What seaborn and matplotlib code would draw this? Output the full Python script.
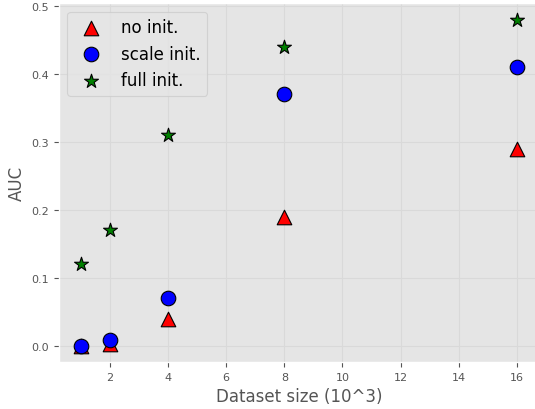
import matplotlib
matplotlib.use("Agg")
import matplotlib.pyplot as plt
import seaborn as sns
import pandas as pd

sizes = [1, 2, 4, 8, 16]
no_init = [0.0, 0.003, 0.04, 0.19, 0.29]
scale_init = [0.0, 0.008, 0.07, 0.37, 0.41]
full_init = [0.12, 0.17, 0.31, 0.44, 0.48]

plt.style.use("ggplot")
fig = plt.figure(figsize=(5.35, 4.1), dpi=100)
ax = fig.add_axes([0.1103, 0.1146, 0.8966, 0.8745])

series = [
    ("no init.", no_init, "^", "red", 110),
    ("scale init.", scale_init, "o", "blue", 110),
    ("full init.", full_init, "*", "green", 110),
]
for label, vals, marker, color, s in series:
    df = pd.DataFrame({"size": sizes, "auc": vals})
    sns.scatterplot(data=df, x="size", y="auc", marker=marker, color=color,
                    s=s, edgecolor="black", linewidth=0.8, label=label, ax=ax)

ax.grid(True, color="#d9d9d9", linewidth=0.8)
ax.set_xlim(0.25, 16.75)
ax.set_ylim(-0.024, 0.504)
ax.set_xlabel("Dataset size (10^3)", fontsize=12)
ax.set_ylabel("AUC", fontsize=12)
ax.tick_params(labelsize=8)
leg = ax.legend(fontsize=12, loc="upper left", facecolor="#e5e5e5",
                edgecolor="#cccccc", frameon=True)
leg.get_frame().set_linewidth(0.8)
fig.savefig("out.png", dpi=100)
